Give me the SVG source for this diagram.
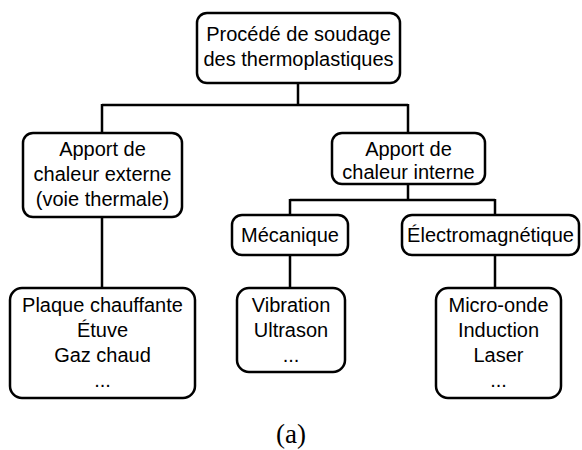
<svg xmlns="http://www.w3.org/2000/svg" width="582" height="450" viewBox="0 0 582 450">
<style>
.box{fill:#fff;stroke:#000;stroke-width:2.5}
.t{font-family:"Liberation Sans",Arial,sans-serif;font-size:20px;text-anchor:middle;fill:#000}
.c{fill:none;stroke:#000;stroke-width:2.5}
.cap{font-family:"Liberation Serif","Times New Roman",serif;font-size:27px;text-anchor:middle;fill:#000}
</style>
<rect width="582" height="450" fill="#fff"/>
<g id="connectors">
<path class="c" d="M298,83 V105 M102,105 H408 M102,104 V133 M408,104 V133"/>
<path class="c" d="M408,184 V200 M290,200 H495 M290,199 V215 M495,199 V215"/>
<path class="c" d="M102,217 V288 M290,255 V288 M495,255 V288"/>
</g>
<g id="n-root"><rect class="box" x="197" y="13" width="203" height="70" rx="10"/><text class="t" x="298.5" y="41">Procédé de soudage</text><text class="t" x="298.5" y="66">des thermoplastiques</text></g>
<g id="n-externe"><rect class="box" x="23" y="133" width="159" height="84" rx="10"/><text class="t" x="102.5" y="156">Apport de</text><text class="t" x="102.5" y="181">chaleur externe</text><text class="t" x="102.5" y="206">(voie thermale)</text></g>
<g id="n-interne"><rect class="box" x="332" y="133" width="153" height="51" rx="10"/><text class="t" x="408.5" y="156">Apport de</text><text class="t" x="408.5" y="179">chaleur interne</text></g>
<g id="n-meca"><rect class="box" x="232" y="215" width="116" height="40" rx="10"/><text class="t" x="290" y="242">Mécanique</text></g>
<g id="n-elec"><rect class="box" x="402" y="215" width="177" height="40" rx="10"/><text class="t" x="490.5" y="242">Électromagnétique</text></g>
<g id="n-thermo"><rect class="box" x="10" y="288" width="185" height="110" rx="12"/><text class="t" x="102.5" y="312">Plaque chauffante</text><text class="t" x="102.5" y="337">Étuve</text><text class="t" x="102.5" y="362">Gaz chaud</text><text class="t" x="102.5" y="387">...</text></g>
<g id="n-meca-list"><rect class="box" x="237" y="288" width="108" height="84" rx="12"/><text class="t" x="291" y="312">Vibration</text><text class="t" x="291" y="337">Ultrason</text><text class="t" x="291" y="362">...</text></g>
<g id="n-elec-list"><rect class="box" x="436" y="288" width="125" height="110" rx="12"/><text class="t" x="498.5" y="312">Micro-onde</text><text class="t" x="498.5" y="337">Induction</text><text class="t" x="498.5" y="362">Laser</text><text class="t" x="498.5" y="387">...</text></g>
<text class="cap" x="291" y="443">(a)</text>
</svg>
